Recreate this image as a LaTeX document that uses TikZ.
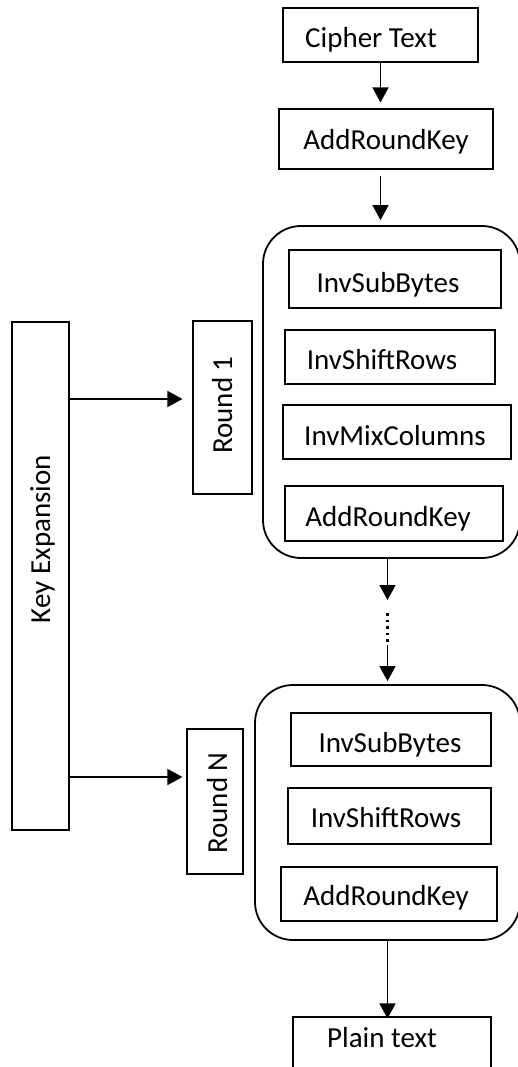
\documentclass[tikz,border=0pt]{standalone}
\usepackage{fontspec}
\setmainfont{Carlito}
\usetikzlibrary{arrows.meta}
\begin{document}
\begin{tikzpicture}[x=1pt,y=-1pt,
  box/.style={draw, line width=1.1pt, inner sep=0pt},
  lbl/.style={inner sep=0pt, anchor=base, font=\fontsize{29}{34}\selectfont},
  stage/.style={draw, line width=1.8pt, rounded corners=38pt, inner sep=0pt},
  flow/.style={line width=1.5pt, -{Triangle[length=15pt,width=16pt]}},
  dots/.style={line width=2.5pt, dash pattern=on 2.5pt off 4pt},
]
\useasboundingbox (0,0) rectangle (518,1067);

% initial round
\node[box, minimum width=195, minimum height=54] (ct) at (380.5,35) {};
\node[lbl] at (371,48) {Cipher Text};
\node[box, minimum width=214, minimum height=60] (ark0) at (386,139) {};
\node[lbl] at (386,150) {AddRoundKey};

% round 1
\node[stage, minimum width=257, minimum height=332] (r1) at (391.5,392) {};
\node[box, minimum width=212, minimum height=58] (isb1) at (395,279) {};
\node[lbl] at (388,292) {InvSubBytes};
\node[box, minimum width=210, minimum height=54] (isr1) at (390,357) {};
\node[lbl] at (382,369) {InvShiftRows};
\node[box, minimum width=228, minimum height=54] (imc1) at (397,432) {};
\node[lbl] at (395,445) {InvMixColumns};
\node[box, minimum width=218, minimum height=55] (ark1) at (394,513.5) {};
\node[lbl] at (388,526) {AddRoundKey};

% round N
\node[stage, minimum width=265, minimum height=255] (r2) at (387.5,812.5) {};
\node[box, minimum width=200, minimum height=53] (isb2) at (391,739.5) {};
\node[lbl] at (390,752) {InvSubBytes};
\node[box, minimum width=203, minimum height=56] (isr2) at (389.5,816) {};
\node[lbl] at (386,827) {InvShiftRows};
\node[box, minimum width=216, minimum height=54] (ark2) at (389,894) {};
\node[lbl] at (386,905) {AddRoundKey};

% output
\node[box, minimum width=198, minimum height=58] (pt) at (392,1046) {};
\node[lbl] at (382,1047) {Plain text};

% key schedule and round labels
\node[box, minimum width=57, minimum height=508] (ke) at (40.5,576) {};
\node[lbl, rotate=90] at (50,539) {Key Expansion};
\node[box, minimum width=59, minimum height=173] (rd1) at (222.5,407.5) {};
\node[lbl, rotate=90] at (232,405) {Round 1};
\node[box, minimum width=56, minimum height=145] (rdn) at (215,801.5) {};
\node[lbl, rotate=90] at (227,803) {Round N};

% connectors
\coordinate (k1) at (0,399);
\coordinate (kn) at (0,777);
\coordinate (d1) at (387.5,600);
\coordinate (d2) at (387.5,645);

\draw[flow] (ct.south) -- (ct.south |- ark0.north) [shorten >=6pt];
\draw[flow, shorten <=6pt, shorten >=5pt] (ct.south |- ark0.south) -- (ct.south |- r1.north);
\draw[flow] (r1.south -| d1) -- (d1);
\draw[dots] ([yshift=-13pt]d1) -- ([yshift=2pt]d2);
\draw[flow, shorten >=3pt] (d2) -- (d2 |- r2.north);
\draw[flow, shorten >=-2pt] (r2.south) -- (r2.south |- pt.north);

\draw[flow, shorten >=10pt] (ke.east |- k1) -- (rd1.west |- k1);
\draw[flow, shorten >=4pt] (ke.east |- kn) -- (rdn.west |- kn);
\end{tikzpicture}
\end{document}
